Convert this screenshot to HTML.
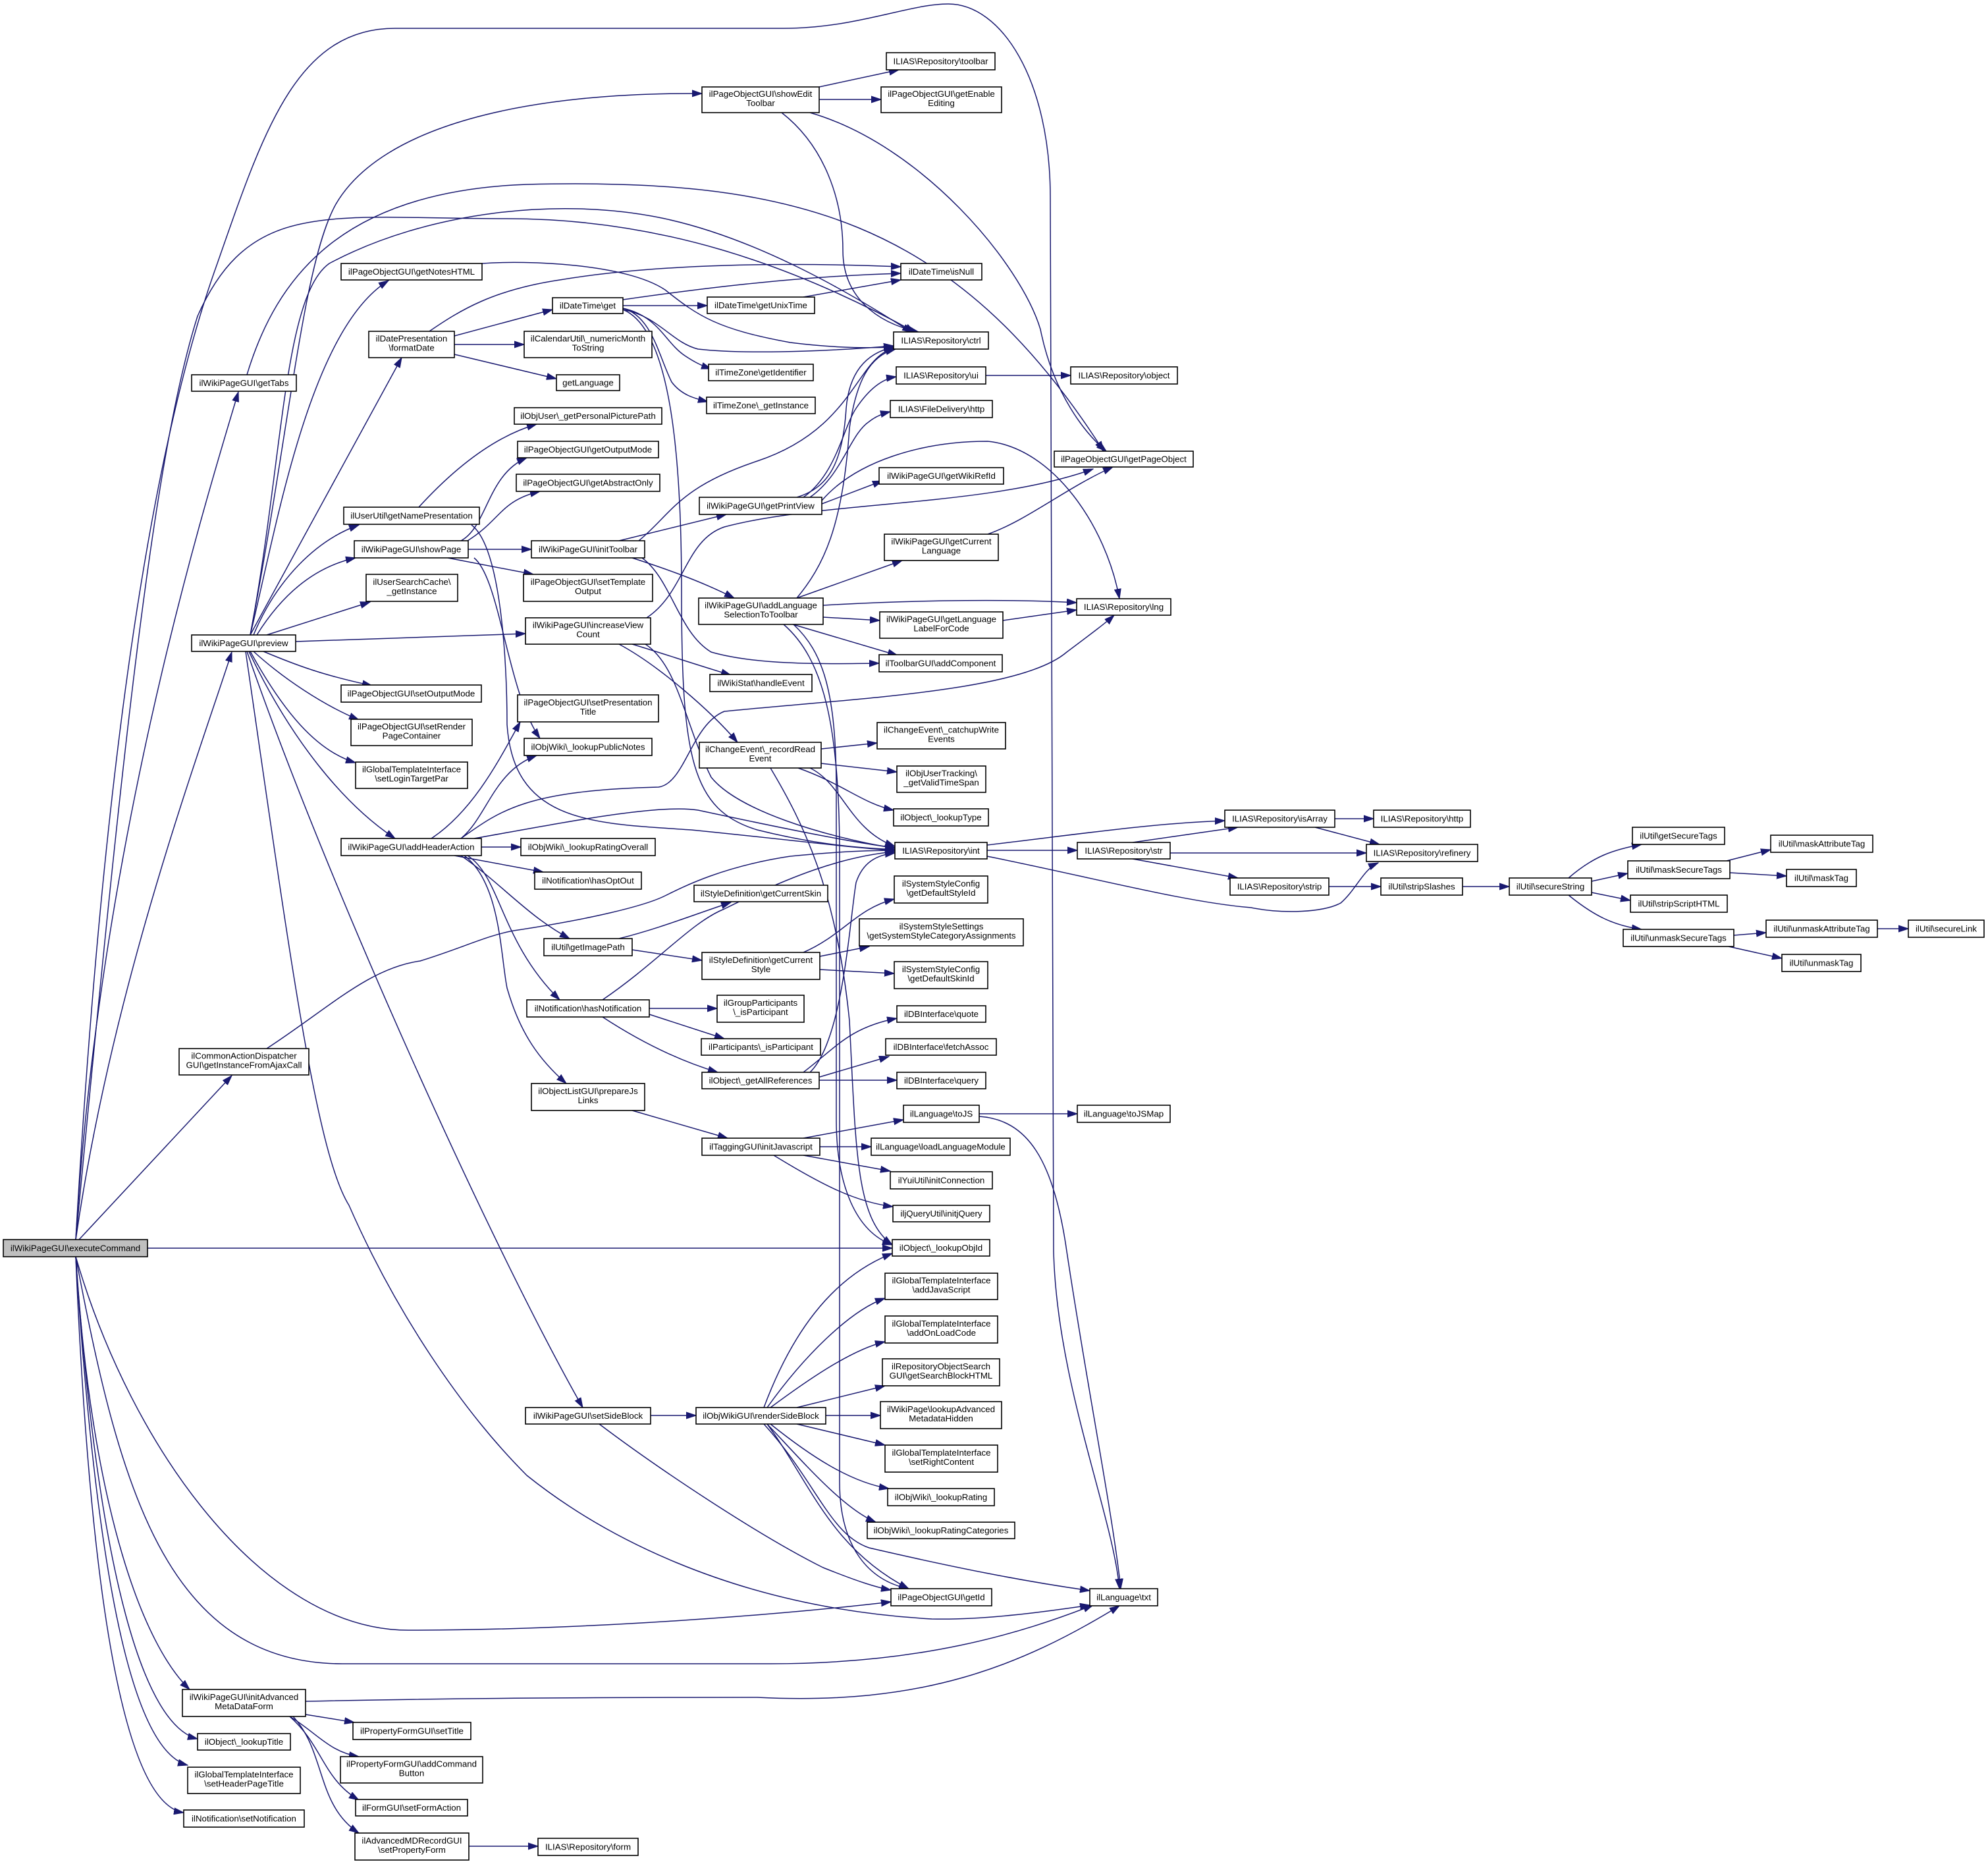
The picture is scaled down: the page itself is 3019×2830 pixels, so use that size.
<!DOCTYPE html>
<html><head><meta charset="utf-8">
<style>
html,body{margin:0;padding:0;background:#fff;}
svg{display:block;}
rect{fill:#fff;stroke:#000;stroke-width:1.6;}
text{font-family:"Liberation Sans",Arial,sans-serif;font-size:13.3px;text-anchor:middle;fill:#000;}
path.e{fill:none;stroke:#191970;stroke-width:1.5;marker-end:url(#a);}
</style></head>
<body>
<svg width="3019" height="2830" viewBox="0 0 3019 2830" xmlns="http://www.w3.org/2000/svg">
<defs><marker id="a" markerWidth="16" markerHeight="12" refX="15" refY="6" orient="auto" markerUnits="userSpaceOnUse"><path d="M0,1 L15,6 L0,11 z" fill="#191970" stroke="#191970"/></marker></defs>
<g>
<path class="e" d="M115,1882 C150,1300 300,800 362,595"/>
<path class="e" d="M115,1882 C170,1500 300,1150 352,990"/>
<path class="e" d="M120,1882 L352,1633"/>
<path class="e" d="M224,1895 L1355,1895"/>
<path class="e" d="M115,1882 C160,1100 240,650 330,400 C400,200 450,43 600,43 L1190,43 C1300,43 1380,6 1440,6 C1520,6 1595,120 1595,300 L1600,1900 C1605,2100 1690,2300 1700,2412"/>
<path class="e" d="M115,1882 C180,1200 230,700 300,480 C380,300 500,332 770,332 C1000,332 1200,400 1389,504"/>
<path class="e" d="M115,1908 C140,2300 220,2500 288,2565"/>
<path class="e" d="M115,1908 C150,2400 220,2620 300,2640"/>
<path class="e" d="M115,1908 C150,2450 210,2660 285,2680"/>
<path class="e" d="M115,1908 C140,2500 200,2740 279,2752"/>
<path class="e" d="M115,1908 C200,2200 400,2475 620,2475 C900,2475 1200,2450 1353,2432"/>
<path class="e" d="M115,1908 C180,2250 250,2526 520,2526 L1170,2526 C1400,2526 1550,2480 1660,2437"/>
<path class="e" d="M375,569 C420,420 520,290 800,280 C1200,270 1450,330 1676,685"/>
<path class="e" d="M380,964 C440,650 460,400 510,310 C580,190 800,140 1066,142"/>
<path class="e" d="M380,964 C430,700 430,450 500,400 C650,320 850,300 1000,330 C1150,360 1300,450 1385,505"/>
<path class="e" d="M380,964 C420,800 470,500 590,426"/>
<path class="e" d="M380,964 L610,543"/>
<path class="e" d="M385,964 C420,880 480,820 545,797"/>
<path class="e" d="M390,964 C430,900 480,860 540,847"/>
<path class="e" d="M405,964 L562,914"/>
<path class="e" d="M449,974 L798,962"/>
<path class="e" d="M400,989 C450,1010 490,1025 565,1041"/>
<path class="e" d="M385,989 C430,1030 490,1070 545,1093"/>
<path class="e" d="M380,989 C430,1080 480,1140 540,1158"/>
<path class="e" d="M378,989 C440,1120 520,1220 600,1273"/>
<path class="e" d="M375,989 C500,1350 750,1900 885,2137"/>
<path class="e" d="M373,989 C440,1450 480,1750 530,1830 C600,1990 700,2140 800,2240 C900,2320 1100,2440 1415,2458 C1500,2460 1600,2445 1655,2437"/>
<path class="e" d="M732,400 C800,395 950,400 1010,440 C1060,480 1090,500 1200,520 C1280,530 1330,528 1357,527"/>
<path class="e" d="M652,503 C700,470 750,440 850,425 C1000,400 1200,398 1368,405"/>
<path class="e" d="M690,510 L839,470"/>
<path class="e" d="M690,523 L796,523"/>
<path class="e" d="M690,538 L845,575"/>
<path class="e" d="M946,464 L1074,464"/>
<path class="e" d="M946,455 C1050,440 1200,420 1368,415"/>
<path class="e" d="M946,468 C1000,480 1010,520 1040,540 C1055,550 1065,555 1080,560"/>
<path class="e" d="M946,468 C990,480 1000,540 1020,580 C1035,600 1055,605 1075,610"/>
<path class="e" d="M946,470 C1000,480 1020,520 1060,530 C1150,540 1300,530 1357,525"/>
<path class="e" d="M946,470 C1020,500 1035,700 1035,900 C1035,1150 1050,1230 1150,1260 C1250,1285 1320,1288 1359,1290"/>
<path class="e" d="M1220,451 L1368,425"/>
<path class="e" d="M636,770 C700,700 760,660 815,644"/>
<path class="e" d="M716,797 C760,830 770,1000 770,1100 C780,1250 900,1250 1050,1260 C1200,1275 1300,1288 1359,1291"/>
<path class="e" d="M700,821 C740,800 740,720 800,695"/>
<path class="e" d="M710,821 C760,790 760,760 820,746"/>
<path class="e" d="M711,834 L807,834"/>
<path class="e" d="M680,847 L810,872"/>
<path class="e" d="M720,847 C760,880 770,1050 820,1121"/>
<path class="e" d="M940,821 L1103,781"/>
<path class="e" d="M970,821 C1020,780 1030,740 1150,700 C1300,650 1300,540 1360,528"/>
<path class="e" d="M960,847 C1000,860 1060,880 1115,908"/>
<path class="e" d="M975,847 C1020,880 1030,960 1080,990 C1150,1010 1250,1008 1335,1007"/>
<path class="e" d="M982,938 C1040,900 1040,820 1100,800 C1250,760 1500,770 1660,712"/>
<path class="e" d="M960,978 C1000,990 1060,1010 1110,1025"/>
<path class="e" d="M940,978 C1000,1010 1080,1080 1120,1127"/>
<path class="e" d="M980,978 C1030,1010 1040,1100 1080,1180 C1120,1230 1250,1270 1359,1288"/>
<path class="e" d="M1210,755 C1260,740 1280,700 1285,620 C1290,560 1320,535 1357,527"/>
<path class="e" d="M1220,755 C1270,720 1280,650 1300,620 C1320,590 1340,575 1361,572"/>
<path class="e" d="M1230,755 C1280,720 1290,660 1320,640 C1330,632 1340,628 1352,625"/>
<path class="e" d="M1248,765 L1340,730"/>
<path class="e" d="M1248,760 C1300,700 1400,670 1500,670 C1600,680 1680,800 1700,909"/>
<path class="e" d="M1497,570 L1626,570"/>
<path class="e" d="M1244,132 L1365,106"/>
<path class="e" d="M1244,151 L1338,151"/>
<path class="e" d="M1187,171 C1250,220 1280,300 1280,380 C1280,450 1330,490 1395,504"/>
<path class="e" d="M1230,171 C1400,220 1550,400 1580,500 C1600,600 1650,660 1680,685"/>
<path class="e" d="M1210,908 L1370,851"/>
<path class="e" d="M1250,919 C1400,910 1550,910 1635,915"/>
<path class="e" d="M1250,937 L1336,942"/>
<path class="e" d="M1204,948 L1363,995"/>
<path class="e" d="M1210,908 C1250,860 1280,800 1290,650 C1300,580 1320,540 1360,530"/>
<path class="e" d="M1205,948 C1250,990 1270,1050 1270,1200 L1270,1700 C1270,1800 1300,1870 1355,1890"/>
<path class="e" d="M1190,948 C1250,1000 1275,1100 1275,1300 L1275,2250 C1275,2350 1320,2400 1380,2412"/>
<path class="e" d="M1500,811 C1560,790 1620,740 1690,709"/>
<path class="e" d="M1523,942 L1635,926"/>
<path class="e" d="M1247,1137 L1332,1128"/>
<path class="e" d="M1247,1159 L1362,1172"/>
<path class="e" d="M1212,1166 C1280,1190 1310,1220 1357,1230"/>
<path class="e" d="M1230,1166 C1280,1190 1290,1260 1359,1285"/>
<path class="e" d="M1170,1166 C1220,1250 1270,1350 1290,1550 C1300,1750 1300,1850 1355,1890"/>
<path class="e" d="M655,1273 C720,1230 760,1150 790,1096"/>
<path class="e" d="M700,1273 C740,1240 750,1170 815,1147"/>
<path class="e" d="M700,1273 C760,1230 800,1200 1000,1195 C1040,1190 1050,1100 1100,1080 C1300,1060 1550,1050 1620,990 C1660,960 1680,945 1692,934"/>
<path class="e" d="M720,1273 C850,1250 1000,1220 1060,1230 C1200,1260 1300,1280 1359,1287"/>
<path class="e" d="M731,1286 L791,1286"/>
<path class="e" d="M690,1299 L825,1324"/>
<path class="e" d="M700,1299 C760,1340 800,1390 865,1425"/>
<path class="e" d="M710,1299 C760,1330 760,1430 850,1518"/>
<path class="e" d="M705,1299 C760,1340 760,1450 770,1500 C790,1570 820,1610 860,1645"/>
<path class="e" d="M940,1425 C1000,1410 1050,1390 1110,1370"/>
<path class="e" d="M960,1442 L1066,1458"/>
<path class="e" d="M915,1518 C1000,1460 1050,1400 1100,1380 C1200,1330 1280,1300 1359,1293"/>
<path class="e" d="M986,1531 L1089,1531"/>
<path class="e" d="M986,1540 L1100,1577"/>
<path class="e" d="M915,1544 C970,1580 1030,1610 1090,1628"/>
<path class="e" d="M405,1592 C500,1530 560,1470 638,1459 C700,1440 740,1420 780,1413 C900,1395 980,1375 1010,1360 C1040,1345 1100,1315 1200,1300 C1280,1292 1330,1291 1359,1291"/>
<path class="e" d="M1220,1446 C1280,1420 1300,1380 1358,1365"/>
<path class="e" d="M1245,1452 L1320,1437"/>
<path class="e" d="M1245,1472 L1358,1478"/>
<path class="e" d="M1220,1628 C1270,1590 1290,1560 1362,1546"/>
<path class="e" d="M1245,1635 L1350,1604"/>
<path class="e" d="M1244,1640 L1362,1640"/>
<path class="e" d="M1230,1628 C1280,1580 1290,1400 1300,1340 C1310,1310 1330,1298 1359,1295"/>
<path class="e" d="M960,1686 L1105,1728"/>
<path class="e" d="M1220,1728 L1372,1700"/>
<path class="e" d="M1245,1741 L1323,1741"/>
<path class="e" d="M1220,1754 L1352,1778"/>
<path class="e" d="M1175,1754 C1250,1800 1300,1825 1356,1832"/>
<path class="e" d="M1487,1691 L1636,1691"/>
<path class="e" d="M1487,1695 C1560,1700 1600,1760 1620,1900 C1650,2100 1690,2300 1702,2412"/>
<path class="e" d="M1499,1283 C1650,1265 1750,1250 1860,1246"/>
<path class="e" d="M1499,1291 L1636,1291"/>
<path class="e" d="M1499,1300 C1650,1330 1800,1370 1900,1378 C1950,1388 2010,1385 2036,1371 C2060,1350 2070,1320 2093,1310"/>
<path class="e" d="M1720,1279 L1880,1256"/>
<path class="e" d="M1777,1295 L2075,1295"/>
<path class="e" d="M1720,1304 L1880,1333"/>
<path class="e" d="M2027,1243 L2086,1243"/>
<path class="e" d="M1997,1256 L2095,1282"/>
<path class="e" d="M2018,1346 L2097,1346"/>
<path class="e" d="M2221,1346 L2292,1346"/>
<path class="e" d="M2382,1333 C2420,1300 2450,1290 2493,1282"/>
<path class="e" d="M2417,1338 L2472,1326"/>
<path class="e" d="M2417,1355 L2476,1367"/>
<path class="e" d="M2382,1359 C2420,1390 2450,1405 2493,1411"/>
<path class="e" d="M2622,1307 L2689,1290"/>
<path class="e" d="M2627,1325 L2713,1330"/>
<path class="e" d="M2633,1420 L2682,1416"/>
<path class="e" d="M2625,1437 L2706,1455"/>
<path class="e" d="M2851,1410 L2898,1410"/>
<path class="e" d="M988,2149 L1057,2149"/>
<path class="e" d="M910,2162 C1000,2230 1150,2330 1250,2380 C1300,2400 1330,2410 1353,2414"/>
<path class="e" d="M1160,2137 C1200,2030 1260,1940 1355,1903"/>
<path class="e" d="M1165,2137 C1220,2060 1290,1990 1344,1971"/>
<path class="e" d="M1170,2137 C1220,2100 1290,2050 1344,2037"/>
<path class="e" d="M1210,2137 L1344,2104"/>
<path class="e" d="M1254,2149 L1337,2149"/>
<path class="e" d="M1210,2162 L1344,2194"/>
<path class="e" d="M1170,2162 C1230,2210 1290,2250 1350,2260"/>
<path class="e" d="M1165,2162 C1220,2220 1280,2290 1330,2311"/>
<path class="e" d="M1160,2162 C1240,2250 1260,2330 1320,2350 C1450,2380 1550,2400 1655,2415"/>
<path class="e" d="M1165,2162 C1230,2250 1260,2350 1380,2412"/>
<path class="e" d="M464,2583 C700,2578 900,2577 1150,2577 C1400,2590 1550,2530 1700,2438"/>
<path class="e" d="M464,2603 L538,2615"/>
<path class="e" d="M440,2606 C480,2630 500,2660 545,2667"/>
<path class="e" d="M440,2606 C490,2650 490,2700 545,2733"/>
<path class="e" d="M445,2606 C495,2660 480,2740 545,2783"/>
<path class="e" d="M712,2803 L817,2803"/>
</g>
<g>
<rect x="5" y="1882" width="219" height="26" style="fill:#bfbfbf"/><text x="114.5" y="1899.5">ilWikiPageGUI\executeCommand</text>
<rect x="291" y="569" width="159" height="25"/><text x="370.5" y="586">ilWikiPageGUI\getTabs</text>
<rect x="291" y="964" width="158" height="25"/><text x="370" y="981">ilWikiPageGUI\preview</text>
<rect x="272" y="1592" width="197" height="40"/><text x="370.5" y="1607.5">ilCommonActionDispatcher</text><text x="370.5" y="1621.5">GUI\getInstanceFromAjaxCall</text>
<rect x="277" y="2565" width="187" height="41"/><text x="370.5" y="2581">ilWikiPageGUI\initAdvanced</text><text x="370.5" y="2595">MetaDataForm</text>
<rect x="300" y="2632" width="141" height="25"/><text x="370.5" y="2649">ilObject\_lookupTitle</text>
<rect x="285" y="2683" width="171" height="40"/><text x="370.5" y="2698.5">ilGlobalTemplateInterface</text><text x="370.5" y="2712.5">\setHeaderPageTitle</text>
<rect x="279" y="2748" width="183" height="26"/><text x="370.5" y="2765.5">ilNotification\setNotification</text>
<rect x="518" y="400" width="214" height="25"/><text x="625" y="417">ilPageObjectGUI\getNotesHTML</text>
<rect x="560" y="503" width="130" height="40"/><text x="625" y="518.5">ilDatePresentation</text><text x="625" y="532.5">\formatDate</text>
<rect x="522" y="770" width="206" height="26"/><text x="625" y="787.5">ilUserUtil\getNamePresentation</text>
<rect x="538" y="821" width="173" height="26"/><text x="624.5" y="838.5">ilWikiPageGUI\showPage</text>
<rect x="556" y="872" width="139" height="41"/><text x="625.5" y="888">ilUserSearchCache\</text><text x="625.5" y="902">_getInstance</text>
<rect x="518" y="1040" width="213" height="26"/><text x="624.5" y="1057.5">ilPageObjectGUI\setOutputMode</text>
<rect x="533" y="1092" width="184" height="40"/><text x="625" y="1107.5">ilPageObjectGUI\setRender</text><text x="625" y="1121.5">PageContainer</text>
<rect x="540" y="1157" width="170" height="40"/><text x="625" y="1172.5">ilGlobalTemplateInterface</text><text x="625" y="1186.5">\setLoginTargetPar</text>
<rect x="518" y="1273" width="213" height="26"/><text x="624.5" y="1290.5">ilWikiPageGUI\addHeaderAction</text>
<rect x="798" y="2137" width="190" height="25"/><text x="893" y="2154">ilWikiPageGUI\setSideBlock</text>
<rect x="536" y="2615" width="179" height="26"/><text x="625.5" y="2632.5">ilPropertyFormGUI\setTitle</text>
<rect x="517" y="2667" width="216" height="40"/><text x="625" y="2682.5">ilPropertyFormGUI\addCommand</text><text x="625" y="2696.5">Button</text>
<rect x="540" y="2732" width="170" height="25"/><text x="625" y="2749">ilFormGUI\setFormAction</text>
<rect x="539" y="2783" width="173" height="41"/><text x="625.5" y="2799">ilAdvancedMDRecordGUI</text><text x="625.5" y="2813">\setPropertyForm</text>
<rect x="839" y="452" width="107" height="24"/><text x="892.5" y="468.5">ilDateTime\get</text>
<rect x="796" y="503" width="194" height="40"/><text x="893" y="518.5">ilCalendarUtil\_numericMonth</text><text x="893" y="532.5">ToString</text>
<rect x="845" y="569" width="96" height="24"/><text x="893" y="585.5">getLanguage</text>
<rect x="781" y="619" width="224" height="25"/><text x="893" y="636">ilObjUser\_getPersonalPicturePath</text>
<rect x="786" y="670" width="214" height="25"/><text x="893" y="687">ilPageObjectGUI\getOutputMode</text>
<rect x="784" y="720" width="218" height="26"/><text x="893" y="737.5">ilPageObjectGUI\getAbstractOnly</text>
<rect x="807" y="821" width="172" height="26"/><text x="893" y="838.5">ilWikiPageGUI\initToolbar</text>
<rect x="795" y="872" width="196" height="41"/><text x="893" y="888">ilPageObjectGUI\setTemplate</text><text x="893" y="902">Output</text>
<rect x="798" y="938" width="190" height="40"/><text x="893" y="953.5">ilWikiPageGUI\increaseView</text><text x="893" y="967.5">Count</text>
<rect x="786" y="1055" width="214" height="41"/><text x="893" y="1071">ilPageObjectGUI\setPresentation</text><text x="893" y="1085">Title</text>
<rect x="796" y="1121" width="194" height="26"/><text x="893" y="1138.5">ilObjWiki\_lookupPublicNotes</text>
<rect x="791" y="1273" width="204" height="26"/><text x="893" y="1290.5">ilObjWiki\_lookupRatingOverall</text>
<rect x="812" y="1324" width="162" height="26"/><text x="893" y="1341.5">ilNotification\hasOptOut</text>
<rect x="826" y="1425" width="134" height="26"/><text x="893" y="1442.5">ilUtil\getImagePath</text>
<rect x="800" y="1518" width="186" height="26"/><text x="893" y="1535.5">ilNotification\hasNotification</text>
<rect x="807" y="1645" width="172" height="41"/><text x="893" y="1661">ilObjectListGUI\prepareJs</text><text x="893" y="1675">Links</text>
<rect x="817" y="2791" width="152" height="26"/><text x="893" y="2808.5">ILIAS\Repository\form</text>
<rect x="1066" y="132" width="178" height="39"/><text x="1155" y="147">ilPageObjectGUI\showEdit</text><text x="1155" y="161">Toolbar</text>
<rect x="1074" y="451" width="163" height="25"/><text x="1155.5" y="468">ilDateTime\getUnixTime</text>
<rect x="1076" y="553" width="159" height="25"/><text x="1155.5" y="570">ilTimeZone\getIdentifier</text>
<rect x="1073" y="603" width="165" height="25"/><text x="1155.5" y="620">ilTimeZone\_getInstance</text>
<rect x="1062" y="755" width="186" height="26"/><text x="1155" y="772.5">ilWikiPageGUI\getPrintView</text>
<rect x="1061" y="908" width="189" height="40"/><text x="1155.5" y="923.5">ilWikiPageGUI\addLanguage</text><text x="1155.5" y="937.5">SelectionToToolbar</text>
<rect x="1078" y="1024" width="155" height="26"/><text x="1155.5" y="1041.5">ilWikiStat\handleEvent</text>
<rect x="1062" y="1127" width="185" height="39"/><text x="1154.5" y="1142">ilChangeEvent\_recordRead</text><text x="1154.5" y="1156">Event</text>
<rect x="1054" y="1344" width="203" height="25"/><text x="1155.5" y="1361">ilStyleDefinition\getCurrentSkin</text>
<rect x="1066" y="1446" width="179" height="41"/><text x="1155.5" y="1462">ilStyleDefinition\getCurrent</text><text x="1155.5" y="1476">Style</text>
<rect x="1089" y="1511" width="132" height="41"/><text x="1155" y="1527">ilGroupParticipants</text><text x="1155" y="1541">\_isParticipant</text>
<rect x="1065" y="1577" width="181" height="25"/><text x="1155.5" y="1594">ilParticipants\_isParticipant</text>
<rect x="1066" y="1628" width="178" height="25"/><text x="1155" y="1645">ilObject\_getAllReferences</text>
<rect x="1066" y="1728" width="179" height="26"/><text x="1155.5" y="1745.5">ilTaggingGUI\initJavascript</text>
<rect x="1057" y="2137" width="197" height="25"/><text x="1155.5" y="2154">ilObjWikiGUI\renderSideBlock</text>
<rect x="1346" y="80" width="165" height="26"/><text x="1428.5" y="97.5">ILIAS\Repository\toolbar</text>
<rect x="1338" y="132" width="183" height="39"/><text x="1429.5" y="147">ilPageObjectGUI\getEnable</text><text x="1429.5" y="161">Editing</text>
<rect x="1368" y="400" width="123" height="25"/><text x="1429.5" y="417">ilDateTime\isNull</text>
<rect x="1357" y="504" width="144" height="26"/><text x="1429" y="521.5">ILIAS\Repository\ctrl</text>
<rect x="1361" y="557" width="136" height="26"/><text x="1429" y="574.5">ILIAS\Repository\ui</text>
<rect x="1352" y="608" width="155" height="26"/><text x="1429.5" y="625.5">ILIAS\FileDelivery\http</text>
<rect x="1335" y="710" width="189" height="25"/><text x="1429.5" y="727">ilWikiPageGUI\getWikiRefId</text>
<rect x="1343" y="811" width="173" height="40"/><text x="1429.5" y="826.5">ilWikiPageGUI\getCurrent</text><text x="1429.5" y="840.5">Language</text>
<rect x="1336" y="929" width="187" height="40"/><text x="1429.5" y="944.5">ilWikiPageGUI\getLanguage</text><text x="1429.5" y="958.5">LabelForCode</text>
<rect x="1335" y="994" width="187" height="26"/><text x="1428.5" y="1011.5">ilToolbarGUI\addComponent</text>
<rect x="1332" y="1097" width="195" height="40"/><text x="1429.5" y="1112.5">ilChangeEvent\_catchupWrite</text><text x="1429.5" y="1126.5">Events</text>
<rect x="1362" y="1163" width="135" height="40"/><text x="1429.5" y="1178.5">ilObjUserTracking\</text><text x="1429.5" y="1192.5">_getValidTimeSpan</text>
<rect x="1357" y="1228" width="144" height="26"/><text x="1429" y="1245.5">ilObject\_lookupType</text>
<rect x="1359" y="1279" width="140" height="25"/><text x="1429" y="1296">ILIAS\Repository\int</text>
<rect x="1358" y="1330" width="142" height="41"/><text x="1429" y="1346">ilSystemStyleConfig</text><text x="1429" y="1360">\getDefaultStyleId</text>
<rect x="1305" y="1395" width="249" height="41"/><text x="1429.5" y="1411">ilSystemStyleSettings</text><text x="1429.5" y="1425">\getSystemStyleCategoryAssignments</text>
<rect x="1358" y="1460" width="142" height="41"/><text x="1429" y="1476">ilSystemStyleConfig</text><text x="1429" y="1490">\getDefaultSkinId</text>
<rect x="1362" y="1527" width="135" height="25"/><text x="1429.5" y="1544">ilDBInterface\quote</text>
<rect x="1345" y="1577" width="168" height="25"/><text x="1429" y="1594">ilDBInterface\fetchAssoc</text>
<rect x="1362" y="1628" width="135" height="25"/><text x="1429.5" y="1645">ilDBInterface\query</text>
<rect x="1372" y="1678" width="115" height="26"/><text x="1429.5" y="1695.5">ilLanguage\toJS</text>
<rect x="1323" y="1728" width="211" height="26"/><text x="1428.5" y="1745.5">ilLanguage\loadLanguageModule</text>
<rect x="1352" y="1779" width="155" height="26"/><text x="1429.5" y="1796.5">ilYuiUtil\initConnection</text>
<rect x="1356" y="1830" width="147" height="25"/><text x="1429.5" y="1847">iljQueryUtil\initjQuery</text>
<rect x="1355" y="1882" width="148" height="25"/><text x="1429" y="1899">ilObject\_lookupObjId</text>
<rect x="1344" y="1933" width="171" height="40"/><text x="1429.5" y="1948.5">ilGlobalTemplateInterface</text><text x="1429.5" y="1962.5">\addJavaScript</text>
<rect x="1344" y="1998" width="171" height="41"/><text x="1429.5" y="2014">ilGlobalTemplateInterface</text><text x="1429.5" y="2028">\addOnLoadCode</text>
<rect x="1340" y="2063" width="178" height="41"/><text x="1429" y="2079">ilRepositoryObjectSearch</text><text x="1429" y="2093">GUI\getSearchBlockHTML</text>
<rect x="1337" y="2128" width="184" height="41"/><text x="1429" y="2144">ilWikiPage\lookupAdvanced</text><text x="1429" y="2158">MetadataHidden</text>
<rect x="1344" y="2194" width="171" height="41"/><text x="1429.5" y="2210">ilGlobalTemplateInterface</text><text x="1429.5" y="2224">\setRightContent</text>
<rect x="1348" y="2260" width="162" height="26"/><text x="1429" y="2277.5">ilObjWiki\_lookupRating</text>
<rect x="1317" y="2311" width="224" height="25"/><text x="1429" y="2328">ilObjWiki\_lookupRatingCategories</text>
<rect x="1353" y="2412" width="153" height="26"/><text x="1429.5" y="2429.5">ilPageObjectGUI\getId</text>
<rect x="1626" y="557" width="162" height="26"/><text x="1707" y="574.5">ILIAS\Repository\object</text>
<rect x="1601" y="685" width="211" height="24"/><text x="1706.5" y="701.5">ilPageObjectGUI\getPageObject</text>
<rect x="1635" y="909" width="143" height="25"/><text x="1706.5" y="926">ILIAS\Repository\lng</text>
<rect x="1636" y="1279" width="141" height="25"/><text x="1706.5" y="1296">ILIAS\Repository\str</text>
<rect x="1636" y="1678" width="141" height="26"/><text x="1706.5" y="1695.5">ilLanguage\toJSMap</text>
<rect x="1655" y="2412" width="103" height="26"/><text x="1706.5" y="2429.5">ilLanguage\txt</text>
<rect x="1860" y="1230" width="167" height="26"/><text x="1943.5" y="1247.5">ILIAS\Repository\isArray</text>
<rect x="1868" y="1333" width="150" height="26"/><text x="1943" y="1350.5">ILIAS\Repository\strip</text>
<rect x="2086" y="1230" width="147" height="26"/><text x="2159.5" y="1247.5">ILIAS\Repository\http</text>
<rect x="2075" y="1282" width="169" height="26"/><text x="2159.5" y="1299.5">ILIAS\Repository\refinery</text>
<rect x="2097" y="1333" width="124" height="26"/><text x="2159" y="1350.5">ilUtil\stripSlashes</text>
<rect x="2292" y="1333" width="125" height="26"/><text x="2354.5" y="1350.5">ilUtil\secureString</text>
<rect x="2479" y="1256" width="140" height="26"/><text x="2549" y="1273.5">ilUtil\getSecureTags</text>
<rect x="2472" y="1307" width="155" height="27"/><text x="2549.5" y="1325">ilUtil\maskSecureTags</text>
<rect x="2476" y="1359" width="147" height="26"/><text x="2549.5" y="1376.5">ilUtil\stripScriptHTML</text>
<rect x="2465" y="1411" width="168" height="26"/><text x="2549" y="1428.5">ilUtil\unmaskSecureTags</text>
<rect x="2689" y="1268" width="155" height="26"/><text x="2766.5" y="1285.5">ilUtil\maskAttributeTag</text>
<rect x="2713" y="1320" width="106" height="26"/><text x="2766" y="1337.5">ilUtil\maskTag</text>
<rect x="2682" y="1397" width="169" height="26"/><text x="2766.5" y="1414.5">ilUtil\unmaskAttributeTag</text>
<rect x="2898" y="1397" width="115" height="26"/><text x="2955.5" y="1414.5">ilUtil\secureLink</text>
<rect x="2706" y="1449" width="120" height="26"/><text x="2766" y="1466.5">ilUtil\unmaskTag</text>
</g>
</svg>
</body></html>
